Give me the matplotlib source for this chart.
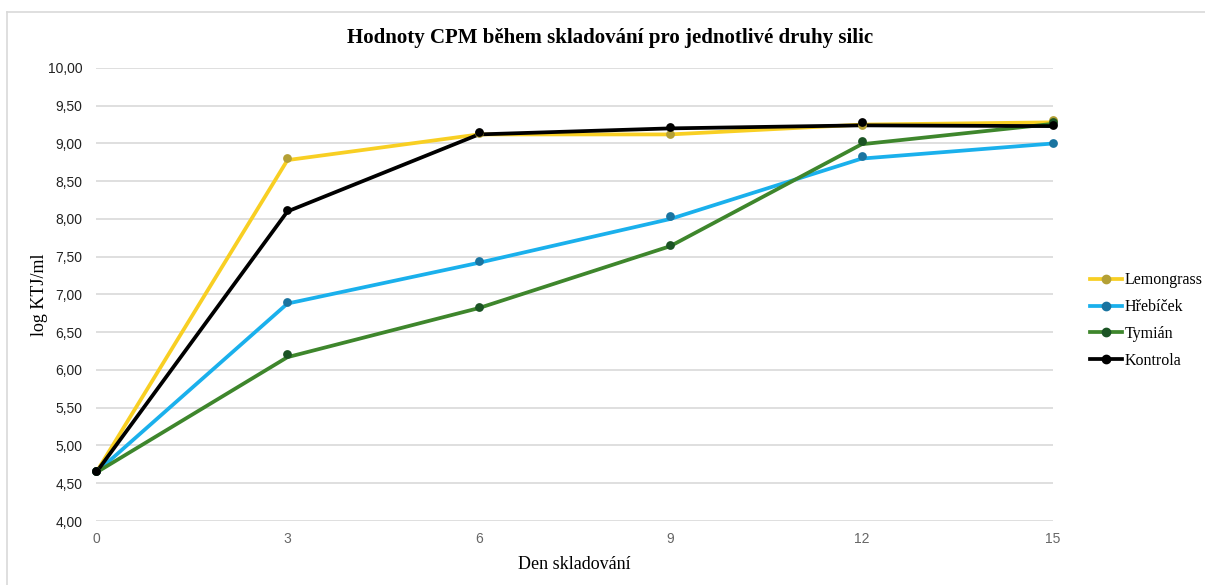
import matplotlib.pyplot as plt
from matplotlib.lines import Line2D

# data
dny = [0, 3, 6, 9, 12, 15]
serie = ['Lemongrass', 'Hřebíček', 'Tymián', 'Kontrola']

# hodnoty bodu (markery)
lemongrass = [4.66, 8.81, 9.14, 9.13, 9.25, 9.31]
hrebicek = [4.66, 6.90, 7.44, 8.04, 8.83, 9.00]
tymian = [4.66, 6.21, 6.83, 7.66, 9.03, 9.29]
kontrola = [4.66, 8.12, 9.15, 9.22, 9.28, 9.25]

# hodnoty spojnic
lemongrass_car = [4.64, 8.78, 9.12, 9.12, 9.25, 9.28]
hrebicek_car = [4.64, 6.88, 7.42, 8.00, 8.80, 9.00]
tymian_car = [4.64, 6.17, 6.82, 7.64, 8.99, 9.26]
kontrola_car = [4.64, 8.10, 9.12, 9.20, 9.24, 9.23]

body = [lemongrass, hrebicek, tymian, kontrola]
cary = [lemongrass_car, hrebicek_car, tymian_car, kontrola_car]
barvy_car = ['#F8CF23', '#1AB0EC', '#3E862C', '#000000']
barvy_bodu = ['#B4A035', '#1A74A0', '#1B5424', '#000000']

fig = plt.figure(figsize=(12.05, 5.85), dpi=100)
ax = fig.add_axes([0.0797, 0.1094, 0.7942, 0.7744])

for nazev, y_car, y_bod, c1, c2 in zip(serie, cary, body, barvy_car, barvy_bodu):
    ax.plot(dny, y_car, color=c1, lw=2.7, solid_joinstyle='miter', zorder=3,
            clip_on=False)
    ax.scatter(dny, y_bod, s=40, color=c2, zorder=4, linewidths=0, clip_on=False)

ax.set_xlim(0, 15)
ax.set_ylim(4, 10)
ax.set_xticks(dny)
ax.set_yticks([4 + 0.5 * i for i in range(13)])
ax.set_yticklabels([f'{4 + 0.5 * i:.2f}'.replace('.', ',') for i in range(13)],
                   fontfamily='Liberation Sans', fontsize=10, color='#222222')
ax.set_xticklabels([str(d) for d in dny], fontfamily='Liberation Sans',
                   fontsize=10, color='#666666')
ax.tick_params(axis='y', length=0, pad=10)
ax.tick_params(axis='x', length=0, pad=8)
ax.grid(axis='y', color='#D9D9D9', lw=1.2)
ax.set_axisbelow(True)
for s in ax.spines.values():
    s.set_visible(False)

ax.set_xlabel('Den skladování', fontfamily='Liberation Serif', fontsize=13, labelpad=7)
ax.set_ylabel('log KTJ/ml', fontfamily='Liberation Serif', fontsize=13)
ax.yaxis.set_label_coords(-0.05, 0.5)
fig.text(0.506, 0.935, 'Hodnoty CPM během skladování pro jednotlivé druhy silic',
         ha='center', va='center', fontfamily='Liberation Serif', fontsize=15,
         fontweight='bold')

handles = [Line2D([0], [0], color=c1, lw=2.7, marker='o', markersize=6,
                  markerfacecolor=c2, markeredgecolor=c2)
           for c1, c2 in zip(barvy_car, barvy_bodu)]
fig.legend(handles, serie, loc='center left', bbox_to_anchor=(0.893, 0.452),
           frameon=False, prop={'family': 'Liberation Serif', 'size': 11.5},
           handlelength=2.0, handletextpad=0.15, labelspacing=0.68)

# ramecek grafu
fig.add_artist(Line2D([7 / 1205, 7 / 1205], [0, 1 - 12 / 585], color='#D9D9D9', lw=1.2))
fig.add_artist(Line2D([7 / 1205, 1], [1 - 12 / 585, 1 - 12 / 585], color='#D9D9D9', lw=1.2))

plt.savefig('out.png', dpi=100)
